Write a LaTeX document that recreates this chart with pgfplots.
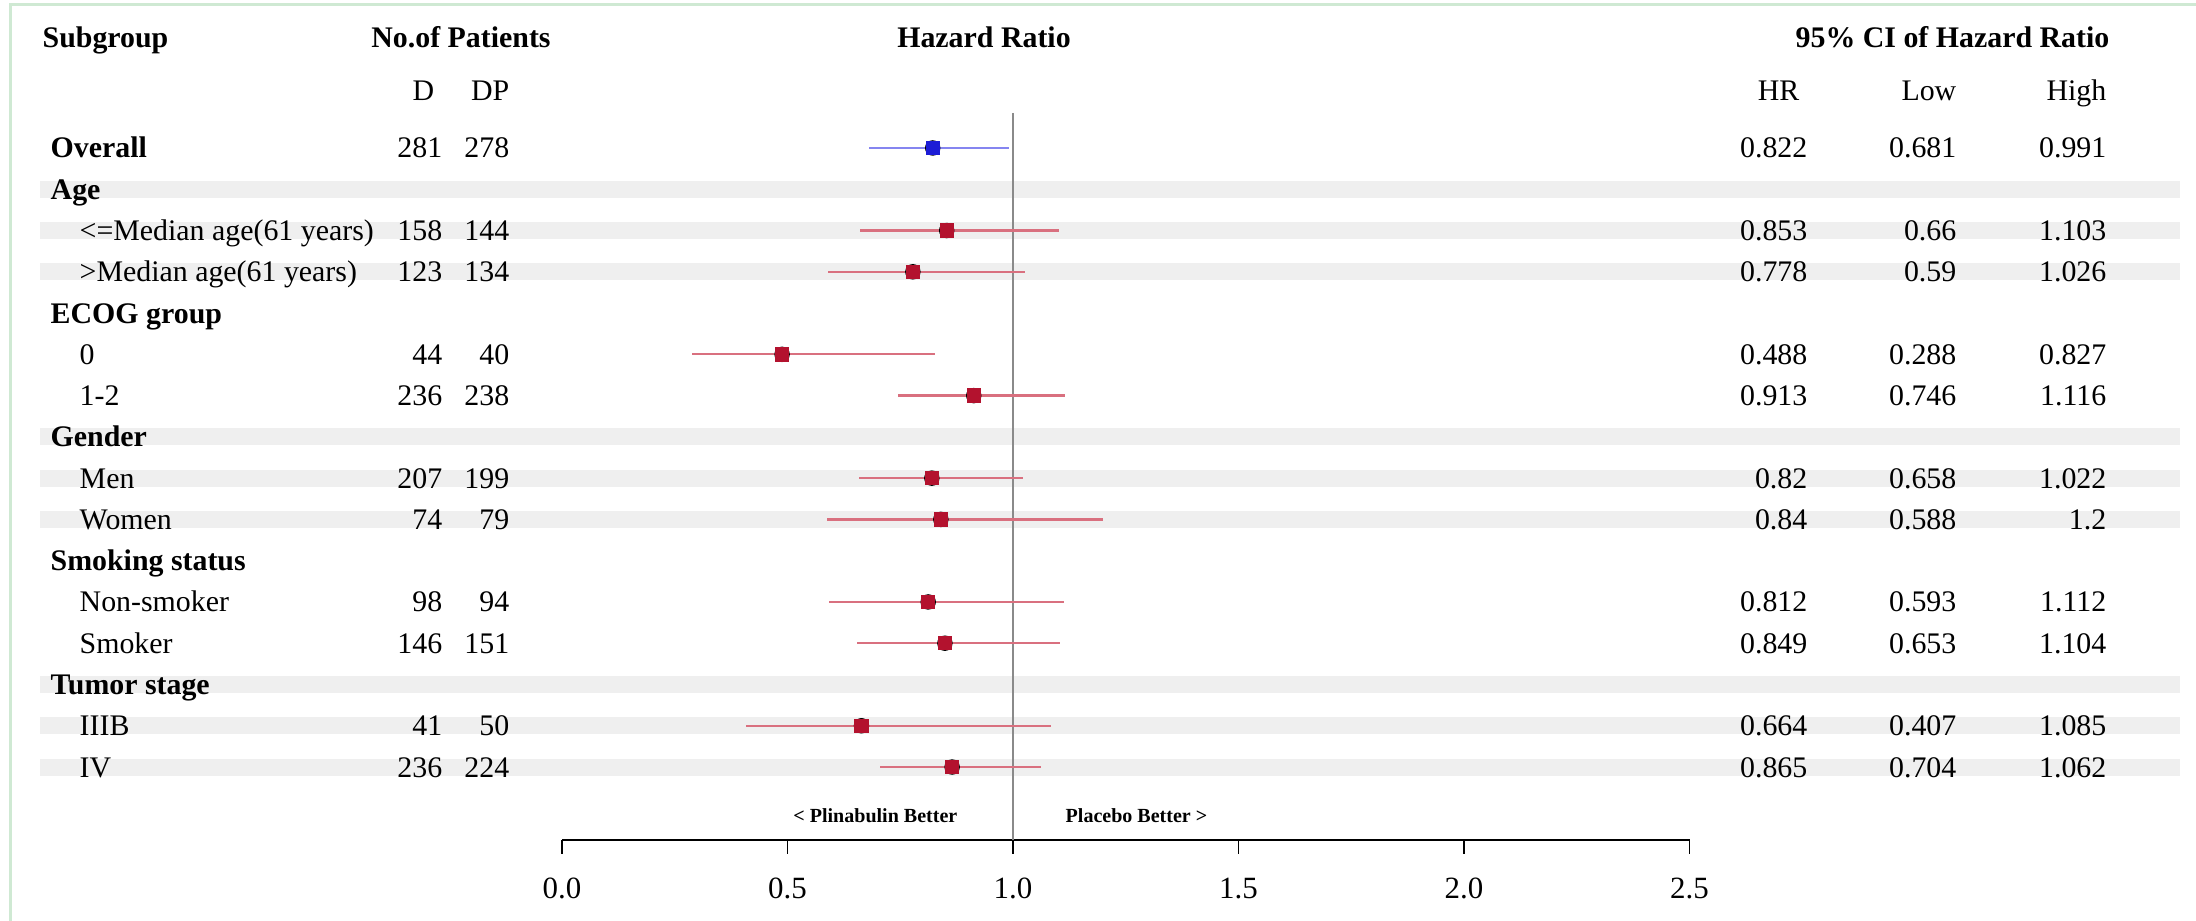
\documentclass[border=0pt]{standalone}
\usepackage{pgfplots}
\usepackage{pgfplotstable}
\pgfplotsset{compat=1.18}
\usepackage{fontspec}
\setmainfont{Liberation Serif}

\definecolor{band}{HTML}{EFEFEF}
\definecolor{frame}{HTML}{CFE9D3}
\definecolor{ciRed}{HTML}{D9707F}
\definecolor{sqRed}{HTML}{B3122E}
\definecolor{ciBlue}{HTML}{8585F0}
\definecolor{sqBlue}{HTML}{1C1CD6}
\definecolor{refline}{HTML}{8A8A8A}

\newcommand\tabfont{\fontsize{8.5}{10}\selectfont}
\newcommand\tabfontb{\fontsize{8.5}{10}\selectfont\bfseries}
\newcommand\tickfont{\fontsize{8.8}{10}\selectfont}
\newcommand\smallb{\fontsize{5.7}{7}\selectfont\bfseries}

% r = row number, counted from the Overall row
\pgfplotstableread{
r  label                    D   DP  hr    lo    hi
1  Overall                  281 278 0.822 0.681 0.991
3  {<=Median age(61 years)} 158 144 0.853 0.66  1.103
4  {>Median age(61 years)}  123 134 0.778 0.59  1.026
6  0                        44  40  0.488 0.288 0.827
7  1-2                      236 238 0.913 0.746 1.116
9  Men                      207 199 0.82  0.658 1.022
10 Women                    74  79  0.84  0.588 1.2
12 Non-smoker               98  94  0.812 0.593 1.112
13 Smoker                   146 151 0.849 0.653 1.104
15 IIIB                     41  50  0.664 0.407 1.085
16 IV                       236 224 0.865 0.704 1.062
}\hrdata

\pgfplotstableread{
r  label
1  Overall
2  Age
5  {ECOG group}
8  Gender
11 {Smoking status}
14 {Tumor stage}
}\heads

% grey bands: start (px), length (px) and row
\pgfplotstableread{
x0 len r
40 2140 2
40 2140 3
40 2140 4
40 2140 8
40 2140 9
40 2140 10
40 2140 14
40 2140 15
40 2140 16
}\bands

\begin{document}
\begin{tikzpicture}
\useasboundingbox (0,0) rectangle (21.96,9.21);

% table part: x in pixels of the original, y in rows
\begin{axis}[
  at={(0,0)}, anchor=south west,
  scale only axis, width=21.96cm, height=9.21cm,
  xmin=0, xmax=2196, ymin=-19.730, ymax=2.586,
  hide axis, clip=false,
  txt/.style={only marks, mark=none, nodes near coords,
    point meta=explicit symbolic,
    every node near coord/.append style={inner sep=0pt, yshift=-0.1cm, #1}},
]
\addplot[quiver={u=\thisrow{len}, v=0}, mark=none, -, draw=band,
  line width=0.17cm]
  table[x=x0, y expr=-\thisrow{r}]{\bands};

\addplot[txt={anchor=base west, font=\tabfontb}]
  table[x expr=50, y expr=-\thisrow{r}, meta=label]{\heads};
\addplot[txt={anchor=base west, font=\tabfont}, skip coords between index={0}{1}]
  table[x expr=79, y expr=-\thisrow{r}, meta=label]{\hrdata};
\addplot[txt={anchor=base east, font=\tabfont}]
  table[x expr=443, y expr=-\thisrow{r}, meta=D]{\hrdata};
\addplot[txt={anchor=base east, font=\tabfont}]
  table[x expr=510, y expr=-\thisrow{r}, meta=DP]{\hrdata};
\addplot[txt={anchor=base east, font=\tabfont}]
  table[x expr=1808, y expr=-\thisrow{r}, meta=hr]{\hrdata};
\addplot[txt={anchor=base east, font=\tabfont}]
  table[x expr=1957, y expr=-\thisrow{r}, meta=lo]{\hrdata};
\addplot[txt={anchor=base east, font=\tabfont}]
  table[x expr=2107, y expr=-\thisrow{r}, meta=hi]{\hrdata};
\end{axis}

% forest part
\begin{axis}[
  at={(5.62cm,0.81cm)}, anchor=south west,
  scale only axis, width=11.275cm, height=8.400cm,
  xmin=0, xmax=2.5, ymin=-17.768, ymax=2.586,
  axis x line*=bottom, axis y line=none, clip=false,
  xtick={0,0.5,1,1.5,2,2.5},
  tick align=outside, major tick length=0.14cm,
  every tick/.style={black, line width=0.5pt},
  x axis line style={black, line width=0.5pt},
  xticklabel style={font=\tickfont, yshift=-0.12cm,
    /pgf/number format/.cd, fixed, fixed zerofill, precision=1,
    assume math mode=true},
]
\addplot[refline, line width=0.45pt] coordinates {(1,-0.152) (1,-17.768)};

\addplot[only marks, mark=none, skip coords between index={0}{1},
  error bars/.cd, x dir=both, x explicit, error mark=none,
  error bar style={ciRed, line width=0.65pt}]
  table[x=hr, y expr=-\thisrow{r},
    x error plus expr=\thisrow{hi}-\thisrow{hr},
    x error minus expr=\thisrow{hr}-\thisrow{lo}]{\hrdata};
\addplot[only marks, mark=none, skip coords between index={1}{11},
  error bars/.cd, x dir=both, x explicit, error mark=none,
  error bar style={ciBlue, line width=0.65pt}]
  table[x=hr, y expr=-\thisrow{r},
    x error plus expr=\thisrow{hi}-\thisrow{hr},
    x error minus expr=\thisrow{hr}-\thisrow{lo}]{\hrdata};

\addplot[only marks, mark=square*, mark size=1.85pt, color=sqRed,
  mark options={draw=none}, skip coords between index={0}{1}]
  table[x=hr, y expr=-\thisrow{r}]{\hrdata};
\addplot[only marks, mark=square*, mark size=1.85pt, color=sqBlue,
  mark options={draw=none}, skip coords between index={1}{11}]
  table[x=hr, y expr=-\thisrow{r}]{\hrdata};
\end{axis}

% headers
\begin{scope}[every node/.style={inner sep=0pt}]
\node[anchor=base west, font=\tabfontb] at (0.42,8.73) {Subgroup};
\node[anchor=base, font=\tabfontb] at (4.61,8.73) {No.of Patients};
\node[anchor=base, font=\tabfontb] at (9.84,8.73) {Hazard Ratio};
\node[anchor=base east, font=\tabfontb] at (21.10,8.73) {95\% CI of Hazard Ratio};
\node[anchor=base east, font=\tabfont] at (4.35,8.20) {D};
\node[anchor=base east, font=\tabfont] at (5.10,8.20) {DP};
\node[anchor=base east, font=\tabfont] at (18.00,8.20) {HR};
\node[anchor=base east, font=\tabfont] at (19.57,8.20) {Low};
\node[anchor=base east, font=\tabfont] at (21.07,8.20) {High};
\node[anchor=base east, font=\smallb] at (9.58,0.98) {< Plinabulin Better};
\node[anchor=base west, font=\smallb] at (10.65,0.98) {Placebo Better >};
\end{scope}

\draw[frame, line width=0.03cm] (0.10,0) -- (0.10,9.16) -- (21.96,9.16);
\end{tikzpicture}
\end{document}
